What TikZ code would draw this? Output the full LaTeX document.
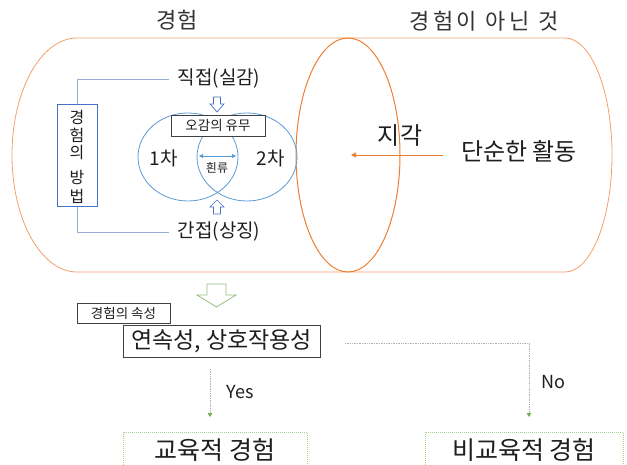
\documentclass[tikz,border=0pt]{standalone}
\usepackage{fontspec}
\setmainfont{Noto Sans CJK KR}
\usetikzlibrary{shapes.geometric,arrows.meta}
\definecolor{orangeA}{RGB}{237,125,49}
\definecolor{orangeL}{RGB}{242,160,105}
\definecolor{blueA}{RGB}{68,114,196}
\definecolor{blueL}{RGB}{91,155,213}
\definecolor{blueG}{RGB}{150,172,215}
\definecolor{greenL}{RGB}{169,209,142}
\definecolor{greenA}{RGB}{112,173,71}
\definecolor{txt}{RGB}{30,30,30}
\tikzset{
  fs/.style={font=\fontsize{#1}{#1}\selectfont},
  lbl/.style={text=txt, inner sep=2pt},
  darkbox/.style={draw=black!75, fill=white, line width=0.8pt, text=txt, inner sep=0pt},
  greenbox/.style={draw=greenL, densely dotted, line width=1pt, text=txt, inner sep=0pt, minimum height=36},
  venn/.style={ellipse, draw=blueL, line width=0.8pt, minimum width=100, minimum height=88, inner sep=0pt},
  bracketline/.style={draw=blueG, line width=0.8pt},
  flowline/.style={black!30, densely dotted, line width=0.7pt, -{Triangle[length=4pt,width=4.5pt,color=greenA]}},
  hollowblue/.style={draw=blueA, fill=white, line width=0.7pt},
  hollowgreen/.style={draw=greenL!90!black, fill=white, line width=0.8pt},
  methbox/.style={rectangle, draw=blueA, line width=1pt, fill=white, minimum width=40, minimum height=102, inner sep=0pt},
}
\begin{document}
\begin{tikzpicture}[x=1pt,y=-1pt]
\useasboundingbox (0,0) rectangle (627,465);
\clip (0,0) rectangle (627,465);

% titles
\node[lbl, fs=22, text=black!80] (t1) at (177,20) {경험};
\node[lbl, fs=22, text=black!80] (t2) at (484,21) {경\,험\,이 \,아\,닌 \,것};

% cylinder outline
\draw[orangeL, line width=0.8pt] (77,38) -- (565,38)
  arc[start angle=-90, end angle=90, x radius=47, y radius=117]
  -- (77,272)
  arc[start angle=90, end angle=270, x radius=65, y radius=117] -- cycle;

% middle ellipse
\node[ellipse, draw=orangeA, line width=1pt, minimum width=104, minimum height=234, inner sep=0pt] (mid) at (348,155) {};

% venn circles
\node[venn] (c1) at (188,157) {};
\node[venn] (c2) at (247,157) {};

% method box
\node[methbox] (meth) at (77,156) {};
\node[lbl, fs=16] (m1) at (77,117) {경};
\node[lbl, fs=16] (m2) at (77,135) {험};
\node[lbl, fs=16] (m3) at (77,153) {의};
\node[lbl, fs=16] (m4) at (77,178) {방};
\node[lbl, fs=16] (m5) at (77,196) {법};

\node[lbl, fs=19] (direct) at (219,79) {직접(실감)};
\node[lbl, fs=19] (indirect) at (219,232) {간접(상징)};

\draw[bracketline] (meth.north) |- ([xshift=-6pt]direct.west);
\draw[bracketline] (meth.south) |- ([xshift=-6pt]indirect.west);

% hollow arrows
\draw[hollowblue] (213.5,97) -- (220.5,97) -- (220.5,104) -- (224,104) -- (217,112) -- (210,104) -- (213.5,104) -- cycle;
\draw[hollowblue] (213.5,214) -- (220.5,214) -- (220.5,207) -- (224,207) -- (217,200) -- (210,207) -- (213.5,207) -- cycle;

\node[darkbox, fs=13.5, minimum width=94, minimum height=21] (senses) at (218,125.5) {오감의 유무};

\node[lbl, fs=19] (first) at (164,158) {1차};
\node[lbl, fs=19] (second) at (271,158) {2차};

\coordinate (fbL) at (199,156);
\coordinate (fbR) at (236,156);
\draw[blueL, line width=0.8pt, {Triangle[length=4pt,width=4pt]}-{Triangle[length=4pt,width=4pt]}] (fbL) -- (fbR);
\node[lbl, fs=12] (fb) at (217,168) {흰류};

% perception
\node[lbl, fs=24] (perc) at (400,136) {지각};
\node[lbl, fs=24] (simple) at (519,151) {단순한 활동};
\coordinate (pin) at (351,155);
\draw[orangeA, line width=0.7pt, -{Triangle[length=5pt,width=5pt]}] (443,155) -- (pin);

% green hollow arrow
\draw[hollowgreen] (207,284) -- (226,284) -- (226,295) -- (236,295) -- (216.5,307) -- (197,295) -- (207,295) -- cycle;

% attribute boxes
\node[darkbox, fs=13.5, minimum width=93, minimum height=20] (attrlbl) at (123.5,313) {경험의 속성};
\node[darkbox, fs=23, minimum width=197, minimum height=32] (attr) at (221.5,341) {연속성, 상호작용성};

% outcome boxes
\node[greenbox, fs=25, minimum width=184] (edu) at (215,450) {교육적 경험};
\node[greenbox, fs=25, minimum width=198] (nonedu) at (524,450) {비교육적 경험};

% flow connectors
\coordinate (ys) at (210,369);
\coordinate (ye) at (210,417);
\coordinate (ns) at (345,343);
\coordinate (nc) at (529,343);
\coordinate (ne) at (529,417);
\draw[flowline] (ys) -- (ye);
\draw[flowline] (ns) -- (nc) -- (ne);

\node[lbl, fs=18] (yes) at (240,392) {Yes};
\node[lbl, fs=18] (no) at (553,382) {No};
\end{tikzpicture}
\end{document}
